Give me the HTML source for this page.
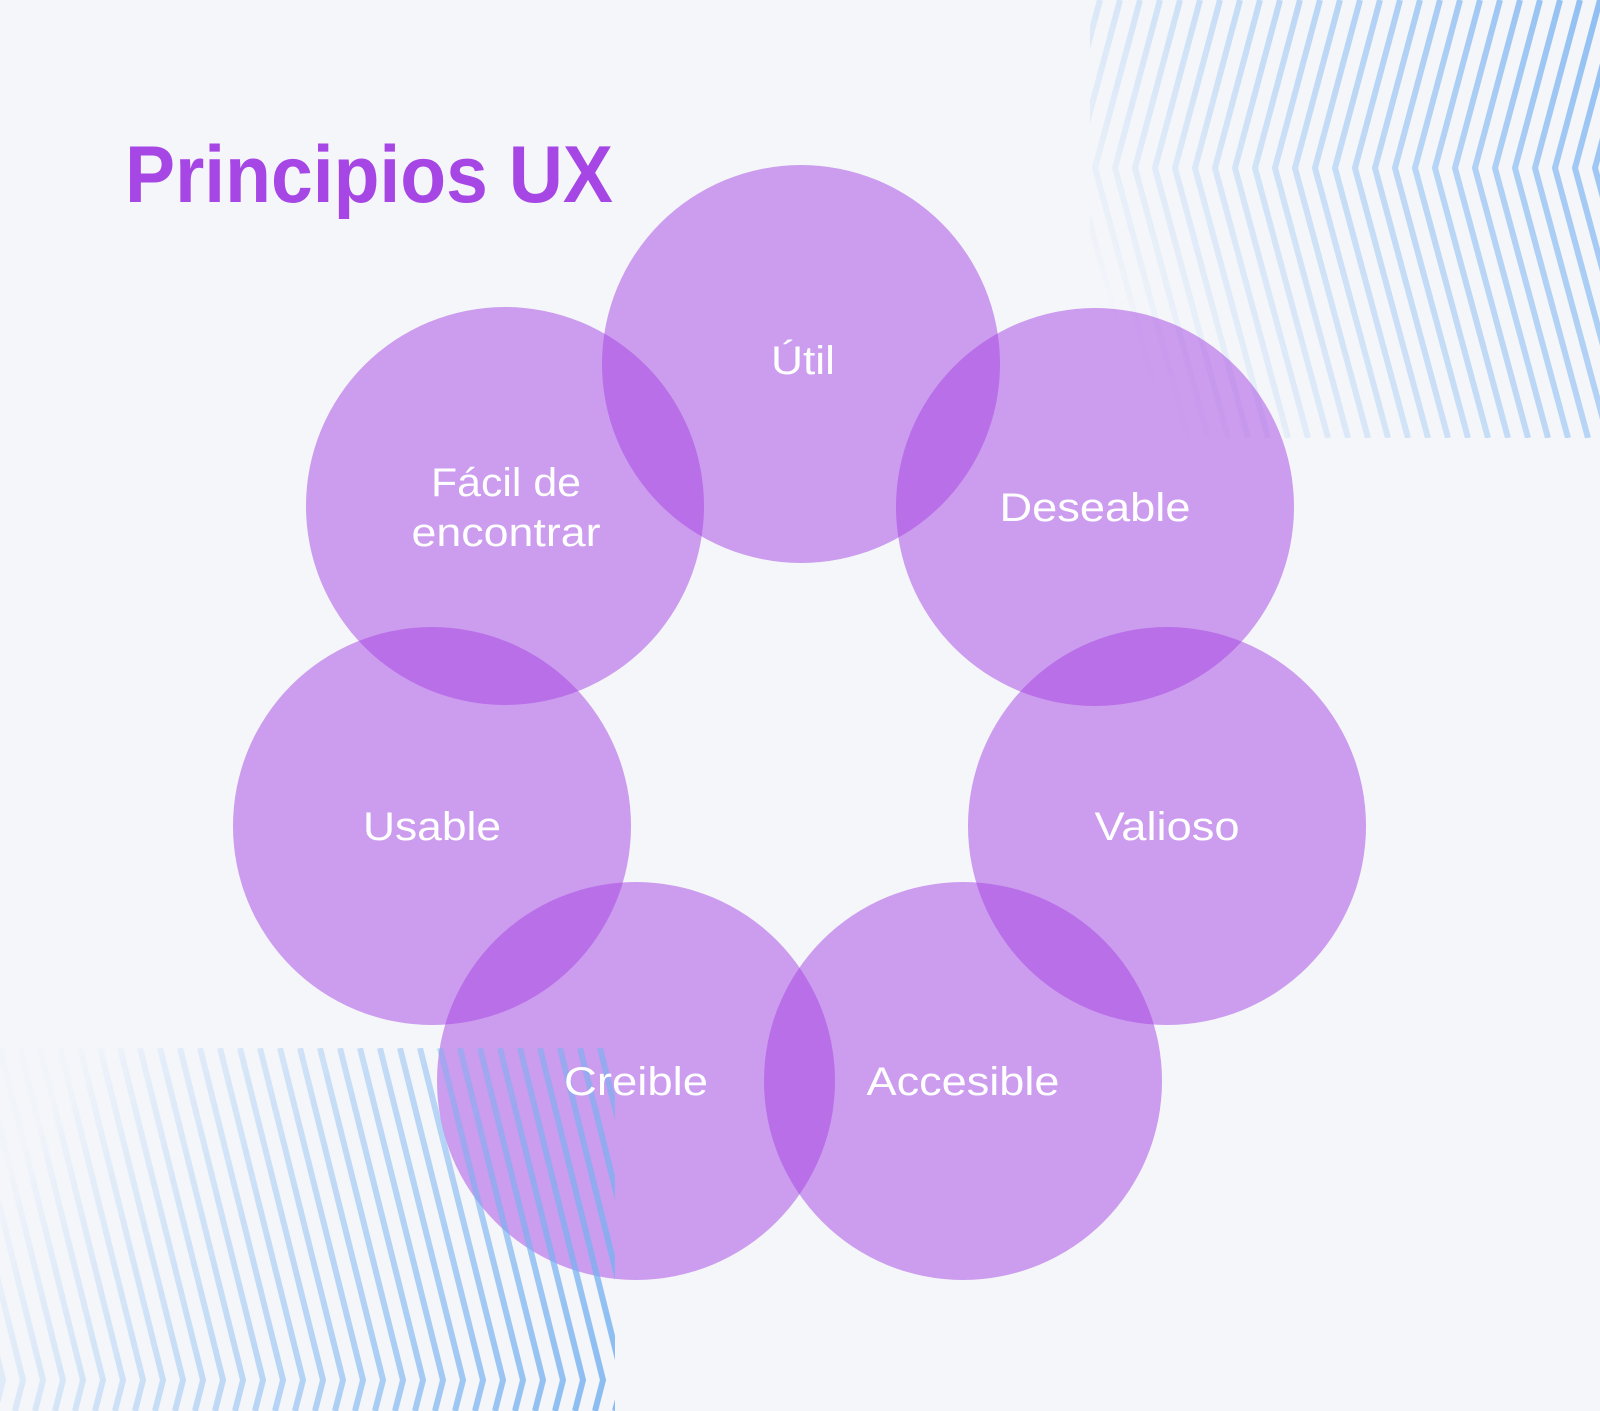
<!DOCTYPE html>
<html><head><meta charset="utf-8"><style>
html,body{margin:0;padding:0;background:#f4f6fa;}
svg{display:block;}
</style></head><body>
<svg width="1600" height="1411" viewBox="0 0 1600 1411" xmlns="http://www.w3.org/2000/svg">
<defs>
  <pattern id="ptr" patternUnits="userSpaceOnUse" x="1100" y="0" width="20" height="438">
    <g fill="none" stroke="#84b8f1" stroke-width="6">
      <polyline points="-40,0 -85,168 -12,438"/>
      <polyline points="-20,0 -65,168 8,438"/>
      <polyline points="0,0 -45,168 28,438"/>
      <polyline points="20,0 -25,168 48,438"/>
      <polyline points="40,0 -5,168 68,438"/>
      <polyline points="60,0 15,168 88,438"/>
      <polyline points="80,0 35,168 108,438"/>
    </g>
  </pattern>
  <pattern id="pbl" patternUnits="userSpaceOnUse" x="0" y="1048" width="20" height="363">
    <g fill="none" stroke="#78b2f0" stroke-width="6">
      <polyline points="-100,0 -17,332 -25,363"/>
      <polyline points="-80,0 3,332 -5,363"/>
      <polyline points="-60,0 23,332 15,363"/>
      <polyline points="-40,0 43,332 35,363"/>
      <polyline points="-20,0 63,332 55,363"/>
      <polyline points="0,0 83,332 75,363"/>
      <polyline points="20,0 103,332 95,363"/>
      <polyline points="40,0 123,332 115,363"/>
    </g>
  </pattern>
  <linearGradient id="gtr" gradientUnits="userSpaceOnUse" x1="1100" y1="300" x2="1600" y2="0">
    <stop offset="0" stop-color="#fff" stop-opacity="0"/>
    <stop offset="0.5" stop-color="#fff" stop-opacity="0.45"/>
    <stop offset="1" stop-color="#fff" stop-opacity="0.9"/>
  </linearGradient>
  <linearGradient id="gbl" gradientUnits="userSpaceOnUse" x1="60" y1="1090" x2="600" y2="1411">
    <stop offset="0" stop-color="#fff" stop-opacity="0.03"/>
    <stop offset="0.5" stop-color="#fff" stop-opacity="0.55"/>
    <stop offset="1" stop-color="#fff" stop-opacity="1"/>
  </linearGradient>
  <mask id="mtr" maskUnits="userSpaceOnUse" x="0" y="0" width="1600" height="1411">
    <rect x="1090" y="0" width="510" height="438" fill="url(#gtr)"/>
  </mask>
  <mask id="mbl" maskUnits="userSpaceOnUse" x="0" y="0" width="1600" height="1411">
    <rect x="0" y="1048" width="615" height="363" fill="url(#gbl)"/>
  </mask>
</defs>
<rect width="1600" height="1411" fill="#f4f6fa"/>
<rect x="1090" y="0" width="510" height="438" fill="url(#ptr)" mask="url(#mtr)"/>
<g fill="#a442e2" fill-opacity="0.5">
  <circle cx="801" cy="364" r="199"/>
  <circle cx="505" cy="506" r="199"/>
  <circle cx="1095" cy="507" r="199"/>
  <circle cx="432" cy="826" r="199"/>
  <circle cx="1167" cy="826" r="199"/>
  <circle cx="636" cy="1081" r="199"/>
  <circle cx="963" cy="1081" r="199"/>
</g>
<g opacity="0.85">
<rect x="0" y="1048" width="615" height="363" fill="url(#pbl)" mask="url(#mbl)"/>
</g>
<text x="125" y="202" font-family="Liberation Sans, sans-serif" font-weight="bold" font-size="81" fill="#a646e4" textLength="488" lengthAdjust="spacingAndGlyphs">Principios UX</text>
<g font-family="Liberation Sans, sans-serif" font-size="40" fill="#ffffff" text-anchor="middle" lengthAdjust="spacingAndGlyphs">
  <text x="803" y="374" textLength="64" lengthAdjust="spacingAndGlyphs">Útil</text>
  <text x="506" y="496" textLength="150" lengthAdjust="spacingAndGlyphs">Fácil de</text>
  <text x="506" y="546" textLength="189" lengthAdjust="spacingAndGlyphs">encontrar</text>
  <text x="1095" y="521" textLength="191" lengthAdjust="spacingAndGlyphs">Deseable</text>
  <text x="432" y="840" textLength="138" lengthAdjust="spacingAndGlyphs">Usable</text>
  <text x="1167" y="840" textLength="145" lengthAdjust="spacingAndGlyphs">Valioso</text>
  <text x="636" y="1095" textLength="144" lengthAdjust="spacingAndGlyphs">Creible</text>
  <text x="963" y="1095" textLength="193" lengthAdjust="spacingAndGlyphs">Accesible</text>
</g>
</svg>
</body></html>
